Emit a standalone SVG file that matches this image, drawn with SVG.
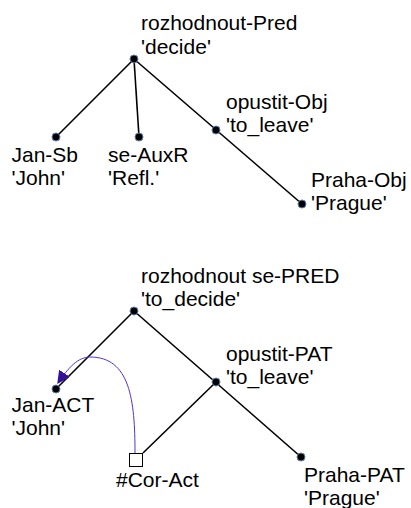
<svg xmlns="http://www.w3.org/2000/svg" width="411" height="508" viewBox="0 0 411 508">
  <style>
    .edge { stroke: #000; stroke-width: 1.6; fill: none; }
    .dot { fill: #000; stroke: #5a7fb0; stroke-width: 1; }
    .box { fill: #fff; stroke: #000; stroke-width: 1; }
    .coref { stroke: #5533cc; stroke-width: 1; fill: none; }
    text { font-family: "Liberation Sans", Arial, sans-serif; font-size: 21px; fill: #000; }
  </style>
  <defs>
    <marker id="arrow" viewBox="0 0 10 10" refX="9" refY="5" markerWidth="13" markerHeight="13" markerUnits="userSpaceOnUse" orient="auto">
      <path d="M0,0 L10,5 L0,10 z" fill="#33119a"/>
    </marker>
  </defs>
  <rect width="411" height="508" fill="#fff"/>

  <!-- analytical tree -->
  <g id="connectors-a">
    <line class="edge" x1="134" y1="59" x2="56" y2="137"/>
    <line class="edge" x1="134" y1="59" x2="139" y2="137"/>
    <line class="edge" x1="134" y1="59" x2="302" y2="204"/>
  </g>
  <g id="a-root">
    <circle class="dot" cx="134" cy="59" r="4"/>
    <text x="141" y="30">rozhodnout-Pred</text>
    <text x="141" y="53.5">'decide'</text>
  </g>
  <g id="a-jan">
    <circle class="dot" cx="56" cy="137" r="4"/>
    <text x="11.5" y="161.5">Jan-Sb</text>
    <text x="11.5" y="184.5">'John'</text>
  </g>
  <g id="a-se">
    <circle class="dot" cx="139" cy="137" r="4"/>
    <text x="108" y="161.5">se-AuxR</text>
    <text x="108" y="184.5">'Refl.'</text>
  </g>
  <g id="a-opustit">
    <circle class="dot" cx="216" cy="130" r="4"/>
    <text x="226" y="108.5">opustit-Obj</text>
    <text x="226" y="131.5">'to_leave'</text>
  </g>
  <g id="a-praha">
    <circle class="dot" cx="302" cy="204" r="4"/>
    <text x="311" y="186.5">Praha-Obj</text>
    <text x="311" y="210">'Prague'</text>
  </g>

  <!-- tectogrammatical tree -->
  <g id="connectors-t">
    <line class="edge" x1="134" y1="311" x2="56" y2="389"/>
    <line class="edge" x1="134" y1="311" x2="301" y2="457"/>
    <line class="edge" x1="216" y1="382" x2="143" y2="453"/>
    <path class="coref" d="M135,453 C135,400 130,357 90,357 C78,357 68,368 58,383" marker-end="url(#arrow)"/>
  </g>
  <g id="t-root">
    <circle class="dot" cx="134" cy="311" r="4"/>
    <text x="141" y="282.5">rozhodnout se-PRED</text>
    <text x="141" y="305.5">'to_decide'</text>
  </g>
  <g id="t-jan">
    <circle class="dot" cx="56" cy="389" r="4"/>
    <text x="11.5" y="412">Jan-ACT</text>
    <text x="11.5" y="434.5">'John'</text>
  </g>
  <g id="t-opustit">
    <circle class="dot" cx="216" cy="382" r="4"/>
    <text x="226" y="360.5">opustit-PAT</text>
    <text x="226" y="383.5">'to_leave'</text>
  </g>
  <g id="t-cor">
    <rect class="box" x="129.5" y="453.5" width="13" height="13"/>
    <text x="116" y="487">#Cor-Act</text>
  </g>
  <g id="t-praha">
    <circle class="dot" cx="301" cy="457" r="4"/>
    <text x="304" y="482">Praha-PAT</text>
    <text x="304" y="505">'Prague'</text>
  </g>
</svg>
